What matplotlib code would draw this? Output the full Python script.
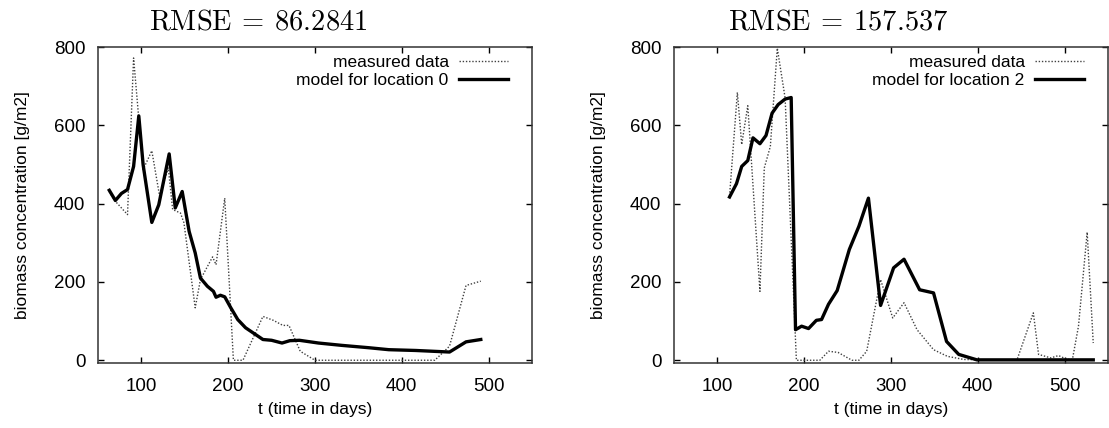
import matplotlib.pyplot as plt

plt.rcParams['font.family'] = ['Liberation Sans', 'DejaVu Sans']
plt.rcParams['mathtext.fontset'] = 'cm'

# Location 0: measured data and model
t_meas0 = [63, 70, 84, 91, 102, 112, 121, 131, 136, 145, 149, 162, 168, 182,
           186, 196, 206, 217, 240, 252, 263, 270, 283, 300, 438, 455, 474, 491]
y_meas0 = [430, 406, 372, 772, 487, 535, 419, 491, 385, 376, 351, 134, 206, 264,
           244, 414, 0, 0, 112, 102, 89, 89, 23, 0, 0, 36, 191, 202]
t_mod0 = [63, 70, 77, 84, 91, 97, 102, 112, 120, 132, 139, 147, 155, 162, 168,
          176, 183, 186, 191, 196, 203, 211, 220, 230, 240, 250, 262, 271, 282,
          304, 331, 362, 385, 416, 455, 474, 491]
y_mod0 = [434, 408, 426, 436, 495, 624, 499, 352, 397, 527, 389, 431, 329, 274,
          210, 189, 176, 161, 166, 162, 134, 104, 83, 68, 53, 51, 44, 50, 51,
          44, 38, 32, 27, 25, 21, 47, 53]

# Location 2: measured data and model
t_meas2 = [114, 123, 128, 135, 149, 154, 161, 169, 178, 191, 218, 228, 239, 255,
           263, 272, 288, 302, 315, 330, 349, 365, 384, 445, 464, 470, 484, 493,
           503, 509, 516, 526, 533]
y_meas2 = [420, 684, 551, 650, 176, 491, 546, 797, 670, 0, 0, 23, 20, 0,
           0, 23, 206, 108, 147, 78, 27, 10, 2, 0, 121, 15, 6, 12,
           2, 2, 87, 327, 44]
t_mod2 = [114, 122, 128, 135, 141, 149, 156, 163, 170, 178, 185, 190, 197, 205,
          214, 220, 228, 238, 252, 263, 274, 288, 303, 315, 333, 349, 364, 378,
          399, 533]
y_mod2 = [417, 451, 495, 510, 568, 553, 574, 631, 653, 667, 671, 78, 87, 81,
          102, 104, 143, 178, 283, 342, 414, 140, 236, 258, 180, 172, 48, 15,
          1, 1]

panels = [
    (t_meas0, y_meas0, t_mod0, y_mod0, 'model for location 0',
     r'$\mathrm{RMSE}\:=\:86.2841$', 0.369),
    (t_meas2, y_meas2, t_mod2, y_mod2, 'model for location 2',
     r'$\mathrm{RMSE}\:=\:157.537$', 0.378),
]

fig = plt.figure(figsize=(11.09, 4.28), dpi=100)
lefts = [98 / 1109, 674 / 1109]

for left, (tm, ym, tp, yp, label, title, tx) in zip(lefts, panels):
    ax = fig.add_axes([left, 65 / 428, 434 / 1109, 316 / 428])
    ax.plot(tm, ym, color='0.25', lw=1.0, linestyle=(0, (1, 1.3)),
            label='measured data')
    ax.plot(tp, yp, color='black', lw=2.4, label=label)
    ax.set_xlim(50, 550)
    ax.set_ylim(-7, 800)
    ax.set_xticks([100, 200, 300, 400, 500])
    ax.set_yticks([0, 200, 400, 600, 800])
    ax.tick_params(direction='in', top=True, right=True, length=4, width=1,
                   labelsize=13.5)
    ax.tick_params(axis='x', pad=11)
    ax.tick_params(axis='y', pad=9)
    for s in ax.spines.values():
        s.set_linewidth(1.1)
        s.set_color('0.2')
    ax.set_xlabel('t (time in days)', fontsize=12.5, labelpad=5)
    ax.set_ylabel('biomass concentration [g/m2]', fontsize=12.5, labelpad=17)
    ax.text(tx, 1.035, title, transform=ax.transAxes, ha='center',
            va='bottom', fontsize=20.5)
    ax.legend(loc='upper right', frameon=False, markerfirst=False,
              fontsize=12.5, handlelength=2.8, handletextpad=0.6,
              labelspacing=0.15, borderaxespad=0.0,
              bbox_to_anchor=(0.96, 0.997))

fig.savefig('out.png', dpi=100)
